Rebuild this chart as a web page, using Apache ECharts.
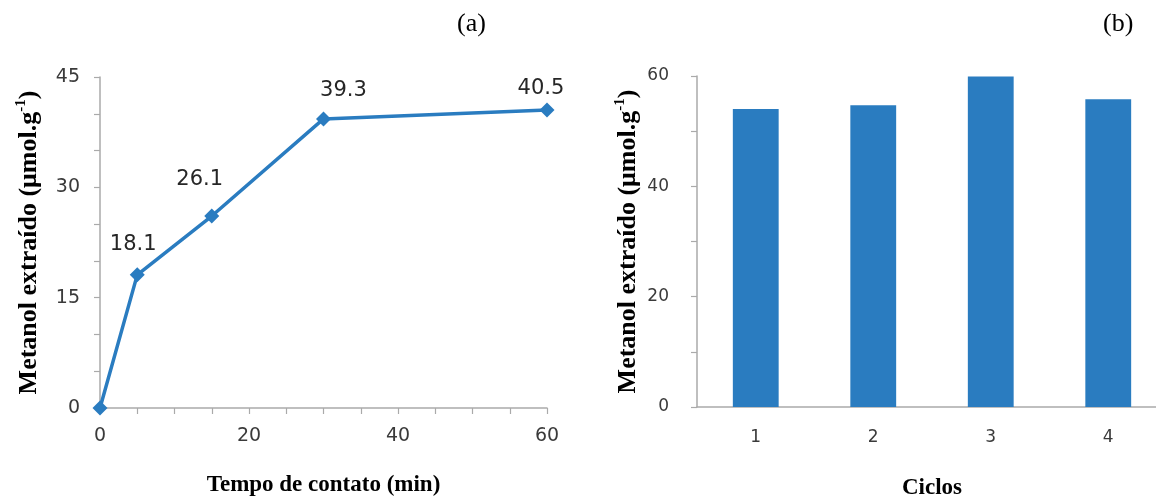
<!DOCTYPE html>
<html>
<head>
<meta charset="utf-8">
<script src="https://cdn.jsdelivr.net/npm/echarts@6/dist/echarts.min.js"></script>
<style>
html,body{margin:0;padding:0;background:#fff;}
#chart{width:1156px;height:500px;}
</style>
</head>
<body>
<div id="chart"></div>
<script>
// ---- data ----
const contactTimes = [0, 5, 15, 30, 60];
const extractedA = [0, 18.1, 26.1, 39.3, 40.5];
const cycles = ['1', '2', '3', '4'];
const extractedB = [54.0, 54.7, 59.9, 55.8];
const panelLabels = ['(a)', '(b)'];
const yNameParts = ['Metanol extraído (μmol.g', '-1', ')'];
const xNameA = 'Tempo de contato (min)';
const xNameB = 'Ciclos';

// ---- style ----
const blue = '#2a7cc0';
const axisGray = '#aaaaaa';
const tickFontA = { fontFamily: 'DejaVu Sans', fontSize: 19, color: '#3a3a3a' };
const tickFontB = { fontFamily: 'DejaVu Sans', fontSize: 17, color: '#3a3a3a' };
const labelOffsets = [[0, 0], [-4, -2], [-12, -8], [20, 0], [-6, 6]];

const yName = '{b|' + yNameParts[0] + '}{s|' + yNameParts[1] + '}{b|' + yNameParts[2] + '}';
const yNameStyle = {
  rich: {
    b: { fontFamily: 'Liberation Serif', fontWeight: 'bold', fontSize: 26, color: '#000', lineHeight: 28, verticalAlign: 'bottom' },
    s: { fontFamily: 'Liberation Serif', fontWeight: 'bold', fontSize: 15, color: '#000', lineHeight: 28, verticalAlign: 'top', padding: [0, 0, 10, 0] }
  }
};
const xNameStyle = { fontFamily: 'Liberation Serif', fontWeight: 'bold', fontSize: 23, color: '#000' };

function valueAxisCommon(font, margin) {
  return {
    axisLine: { show: true, lineStyle: { color: axisGray, width: 1.5 } },
    axisTick: { show: true, length: 6, lineStyle: { color: axisGray, width: 1.2 } },
    splitLine: { show: false },
    minorSplitLine: { show: false },
    axisLabel: Object.assign({ margin: margin }, font)
  };
}
function minor(n) {
  return { show: true, splitNumber: n, length: 6, lineStyle: { color: axisGray, width: 1.2 } };
}

const lineData = contactTimes.map((t, i) => ({
  value: [t, extractedA[i]],
  label: { offset: labelOffsets[i] }
}));

const option = {
  animation: false,
  backgroundColor: '#fff',
  title: [
    { text: panelLabels[0], left: 452, top: 6, textStyle: { fontFamily: 'Liberation Serif', fontWeight: 'normal', fontSize: 26, color: '#000' } },
    { text: panelLabels[1], left: 1098, top: 6, textStyle: { fontFamily: 'Liberation Serif', fontWeight: 'normal', fontSize: 26, color: '#000' } }
  ],
  grid: [
    { left: 100, width: 447, top: 77, height: 331, outerBoundsMode: 'none', containLabel: false },
    { left: 697, width: 470, top: 76, height: 331, outerBoundsMode: 'none', containLabel: false }
  ],
  xAxis: [
    Object.assign(valueAxisCommon(tickFontA, 19), {
      type: 'value', gridIndex: 0, min: 0, max: 60, interval: 20,
      minorTick: minor(4),
      name: xNameA, nameLocation: 'middle', nameGap: 66, nameTextStyle: xNameStyle
    }),
    {
      type: 'category', gridIndex: 1, data: cycles,
      axisLine: { show: true, lineStyle: { color: axisGray, width: 1.5 } },
      axisTick: { show: false },
      axisLabel: Object.assign({ margin: 22 }, tickFontB),
      name: xNameB, nameLocation: 'middle', nameGap: 70, nameTextStyle: xNameStyle
    }
  ],
  yAxis: [
    Object.assign(valueAxisCommon(tickFontA, 20), {
      type: 'value', gridIndex: 0, min: 0, max: 45, interval: 15,
      minorTick: minor(3),
      name: yName, nameLocation: 'middle', nameGap: 58, nameRotate: 90, nameTextStyle: yNameStyle
    }),
    Object.assign(valueAxisCommon(tickFontB, 28), {
      type: 'value', gridIndex: 1, min: 0, max: 60, interval: 20,
      minorTick: minor(2),
      name: yName, nameLocation: 'middle', nameGap: 56, nameRotate: 90, nameTextStyle: yNameStyle
    })
  ],
  series: [
    {
      type: 'line', xAxisIndex: 0, yAxisIndex: 0,
      data: lineData,
      symbol: 'diamond', symbolSize: 15,
      lineStyle: { color: blue, width: 3.5 },
      itemStyle: { color: blue },
      label: {
        show: true, position: 'top', distance: 10,
        formatter: p => p.value[1] === 0 ? '' : p.value[1].toFixed(1),
        fontFamily: 'DejaVu Sans', fontSize: 21, color: '#262626'
      }
    },
    {
      type: 'bar', xAxisIndex: 1, yAxisIndex: 1,
      data: extractedB,
      barWidth: '39%',
      itemStyle: { color: blue }
    }
  ]
};

const chart = echarts.init(document.getElementById('chart'), null, { renderer: 'canvas' });
chart.setOption(option);
</script>
</body>
</html>
